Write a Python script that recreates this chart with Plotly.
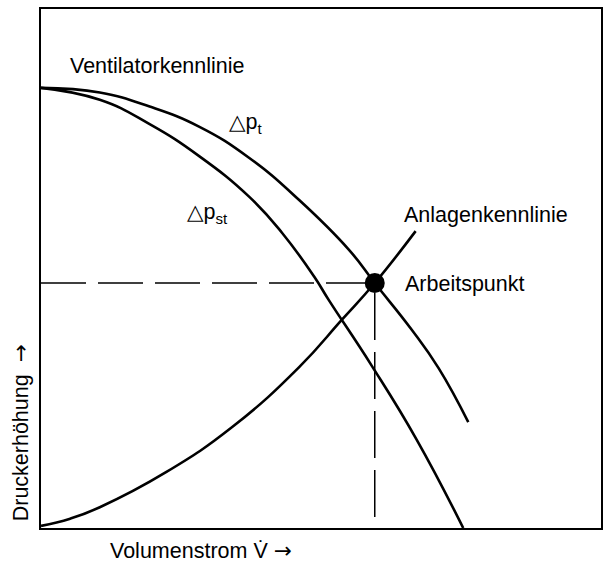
import plotly.graph_objects as go

# Volumenstrom (0..100 across the box) and Druckerhöhung (0..100) readings
v_pt = [0.0, 10.5, 19.4, 28.3, 37.2, 46.1, 55.0, 59.6, 66.2, 71.0, 76.3]
p_pt = [84.8, 83.9, 81.2, 77.3, 71.3, 63.2, 53.6, 47.2, 38.2, 30.8, 20.4]

v_pst = [0.0, 10.5, 19.4, 28.3, 37.2, 43.1, 48.8, 51.4, 59.1, 67.1, 75.4]
p_pst = [84.8, 82.5, 77.8, 71.6, 63.8, 56.8, 48.4, 43.9, 31.2, 17.0, 0.0]

v_anl = [0.0, 5.2, 10.5, 22.4, 34.2, 46.1, 53.7, 59.6, 66.9]
p_anl = [0.4, 1.8, 4.0, 10.8, 19.5, 31.0, 40.1, 47.2, 57.2]

v_op = 59.6
p_op = 47.2
p_dash_bottom = 2.1

FONT = "Liberation Sans, Arial, DejaVu Sans, sans-serif"
ARROW = "<span style='font-family:DejaVu Sans'>→</span>"
BLACK = "#000000"

fig = go.Figure()

# dashed guide lines to the operating point
fig.add_trace(go.Scatter(x=[0, v_op], y=[p_op, p_op], mode="lines",
                         line=dict(color=BLACK, width=1.5, dash="45px,12px"),
                         hoverinfo="skip", showlegend=False))
fig.add_trace(go.Scatter(x=[v_op, v_op], y=[p_dash_bottom, p_op], mode="lines",
                         line=dict(color=BLACK, width=1.5, dash="47px,12px"),
                         hoverinfo="skip", showlegend=False))

for xs, ys in [(v_pt, p_pt), (v_pst, p_pst), (v_anl, p_anl)]:
    fig.add_trace(go.Scatter(x=xs, y=ys, mode="lines",
                             line=dict(color=BLACK, width=2.6, shape="spline", smoothing=1.3),
                             hoverinfo="skip", showlegend=False))

fig.add_trace(go.Scatter(x=[v_op], y=[p_op], mode="markers",
                         marker=dict(color=BLACK, size=20),
                         hoverinfo="skip", showlegend=False))

annos = [
    dict(x=4.8, y=89.0, text="Ventilatorkennlinie", xanchor="left", yanchor="middle"),
    dict(x=33.2, y=78.0, text="△p<sub>t</sub>", xanchor="left", yanchor="middle"),
    dict(x=25.8, y=60.6, text="△p<sub>st</sub>", xanchor="left", yanchor="middle"),
    dict(x=64.4, y=60.4, text="Anlagenkennlinie", xanchor="left", yanchor="middle"),
    dict(x=64.6, y=47.0, text="Arbeitspunkt", xanchor="left", yanchor="middle"),
]
for a in annos:
    fig.add_annotation(**a, xref="x", yref="y", showarrow=False,
                       font=dict(family=FONT, size=21.5, color=BLACK))

fig.add_annotation(x=28.5, y=-0.044, xref="x", yref="paper", text="Volumenstrom V̇ " + ARROW,
                   showarrow=False, xanchor="center", yanchor="middle",
                   font=dict(family=FONT, size=21.5, color=BLACK))
fig.add_annotation(x=-0.037, y=0.183, xref="paper", yref="paper",
                   text="Druckerhöhung&nbsp;&nbsp;" + ARROW,
                   showarrow=False, xanchor="center", yanchor="middle", textangle=-90,
                   font=dict(family=FONT, size=21.5, color=BLACK))

axis_common = dict(showline=True, mirror=True, linecolor=BLACK, linewidth=1.6,
                   showgrid=False, zeroline=False, showticklabels=False, ticks="")
fig.update_layout(
    width=605, height=562,
    margin=dict(l=41, r=2, t=9, b=34),
    paper_bgcolor="white", plot_bgcolor="white",
    xaxis=dict(range=[0, 100], **axis_common),
    yaxis=dict(range=[0, 100], **axis_common),
)

fig.write_html("out.html", config={"displayModeBar": False},
               post_script="document.body.style.margin='0';document.body.style.padding='0';")
